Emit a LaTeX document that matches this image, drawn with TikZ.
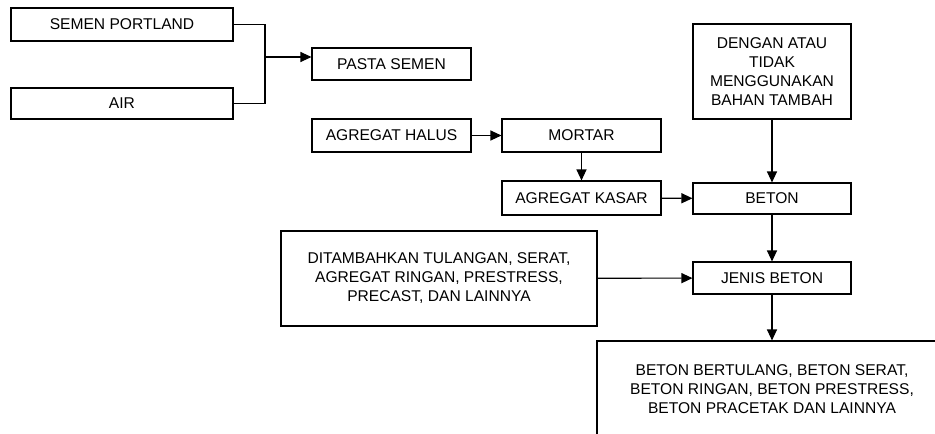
\documentclass[tikz,border=0pt]{standalone}
\usepackage{fontspec}
\setmainfont{Liberation Sans}
\usetikzlibrary{arrows.meta}
\begin{document}
\begin{tikzpicture}[x=1pt,y=-1pt,
  box/.style={draw,line width=1.1pt,rectangle,inner sep=0pt,align=center,
    font=\fontsize{15.6}{19}\selectfont},
  arr/.style={-{Triangle[length=11pt,width=10pt]},line width=1.1pt},
  ln/.style={line width=1.1pt}]
\useasboundingbox (0,0) rectangle (935,434);
\clip (0,0) rectangle (935,434);
\node[box,minimum width=222,minimum height=33] (sp) at (122,24.5) {SEMEN PORTLAND};
\node[box,minimum width=222,minimum height=31] (air) at (122,103.5) {AIR};
\node[box,minimum width=159,minimum height=32] (ps) at (391.5,64) {PASTA SEMEN};
\node[box,minimum width=159,minimum height=33] (ah) at (391.5,135.5) {AGREGAT HALUS};
\node[box,minimum width=159,minimum height=33] (mo) at (581.5,135.5) {MORTAR};
\node[box,minimum width=159,minimum height=34] (ak) at (581.5,198) {AGREGAT KASAR};
\node[box,minimum width=158,minimum height=95] (dg) at (772,71.5) {DENGAN ATAU\\TIDAK\\MENGGUNAKAN\\BAHAN TAMBAH};
\node[box,minimum width=158,minimum height=31] (bt) at (772,198.5) {BETON};
\node[box,minimum width=158,minimum height=32] (jb) at (772,278) {JENIS BETON};
\node[box,minimum width=316,minimum height=95] (dt) at (439,278.5) {DITAMBAHKAN TULANGAN, SERAT,\\AGREGAT RINGAN, PRESTRESS,\\PRECAST, DAN LAINNYA};
\node[box,minimum width=350,minimum height=96] (bb) at (772,389) {BETON BERTULANG, BETON SERAT,\\BETON RINGAN, BETON PRESTRESS,\\BETON PRACETAK DAN LAINNYA};
\coordinate (j) at (265,57);
\draw[ln] (sp.east) -| (j) |- (air.east);
\draw[arr] (j) -- (j -| ps.west);
\draw[arr] (ah) -- (mo);
\draw[arr] (mo) -- (ak);
\draw[arr] (ak) -- (bt);
\draw[arr] (dg) -- (bt);
\draw[arr] (bt) -- (jb);
\draw[arr] (dt) -- (jb);
\draw[arr] (jb) -- (bb);
\end{tikzpicture}
\end{document}
